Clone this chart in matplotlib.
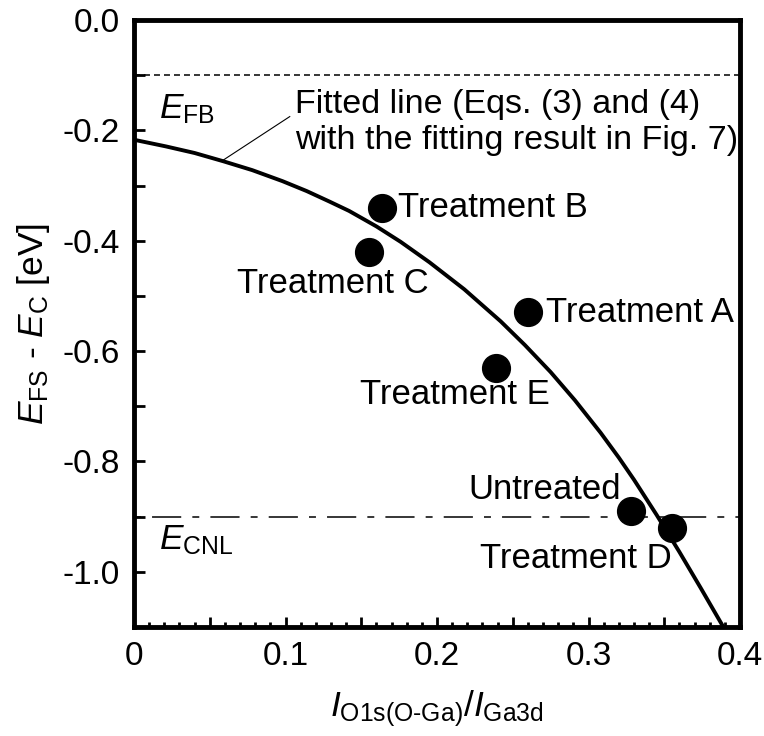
import numpy as np
import matplotlib
matplotlib.use("Agg")
from matplotlib import pyplot as plt

plt.rcParams["font.family"] = ["Liberation Sans", "DejaVu Sans"]
plt.rcParams["mathtext.fontset"] = "custom"
plt.rcParams["mathtext.rm"] = "Liberation Sans"
plt.rcParams["mathtext.it"] = "Liberation Sans:italic"
plt.rcParams["lines.scale_dashes"] = False

# measured samples
samples = ["Treatment B", "Treatment C", "Treatment A", "Treatment E", "Untreated", "Treatment D"]
ratio = [0.164, 0.155, 0.260, 0.239, 0.328, 0.355]
e_fs = [-0.34, -0.42, -0.53, -0.63, -0.89, -0.92]

# fitted line
fit_x = [0.000, 0.021, 0.040, 0.059, 0.078, 0.098, 0.114, 0.129, 0.142, 0.160,
         0.176, 0.195, 0.218, 0.242, 0.258, 0.275, 0.291, 0.308, 0.320, 0.330,
         0.345, 0.360, 0.374, 0.389]
fit_y = [-0.217, -0.229, -0.241, -0.256, -0.272, -0.292, -0.310, -0.329, -0.346, -0.374,
         -0.402, -0.439, -0.488, -0.546, -0.589, -0.638, -0.689, -0.748, -0.793, -0.833,
         -0.897, -0.964, -1.029, -1.100]

e_fb = -0.1
e_cnl = -0.9

fig = plt.figure(figsize=(7.64, 7.36), dpi=100)
ax = fig.add_axes([0.1754, 0.1481, 0.7932, 0.8247])

ax.axhline(e_fb, color="black", lw=1.1, dashes=(4.3, 2.9))
ax.axhline(e_cnl, color="black", lw=1.1, dashes=(5, 8, 21, 8))
ax.plot(fit_x, fit_y, color="black", lw=2.8, solid_joinstyle="round")
ax.plot(ratio, e_fs, "o", color="black", markersize=20)

# labels for each point: (x, y, ha)
label_pos = {
    "Treatment B": (0.174, -0.34, "left"),
    "Treatment C": (0.1315, -0.478, "center"),
    "Treatment A": (0.272, -0.53, "left"),
    "Treatment E": (0.212, -0.678, "center"),
    "Untreated": (0.2713, -0.851, "center"),
    "Treatment D": (0.2917, -0.975, "center"),
}
for name in samples:
    x, y, ha = label_pos[name]
    ax.text(x, y, name, fontsize=25, ha=ha, va="center")

ax.text(0.0165, -0.178, r"$\mathit{E}_{\mathrm{FB}}$", fontsize=25.5, ha="left", va="baseline")
ax.text(0.0165, -0.960, r"$\mathit{E}_{\mathrm{CNL}}$", fontsize=25.5, ha="left", va="baseline")

ax.text(0.106, -0.186, "Fitted line (Eqs. (3) and (4)\nwith the fitting result in Fig. 7)",
        fontsize=24.5, ha="left", va="center", linespacing=1.2)
ax.plot([0.1028, 0.0577], [-0.175, -0.256], color="black", lw=0.8)

ax.set_xlim(0, 0.4)
ax.set_ylim(-1.1, 0.0)

xt = np.arange(0, 0.401, 0.05)
ax.set_xticks(xt)
ax.set_xticklabels(["0" if i == 0 else (f"{v:.1f}" if i % 2 == 0 else "") for i, v in enumerate(xt)])
ax.set_xticks(np.arange(0, 0.401, 0.01), minor=True)

yt = np.arange(-1.1, 0.001, 0.1)
ax.set_yticks(yt)
ax.set_yticklabels([(f"{v:.1f}".replace("\u2212", "-") if round(v * 10) % 2 == 0 else "") for v in yt])

ax.tick_params(axis="both", which="both", direction="in", labelsize=24, pad=10, width=2)
ax.tick_params(axis="x", which="major", length=7)
ax.tick_params(axis="x", which="minor", length=3.5)
ax.tick_params(axis="y", which="major", length=8)
ax.tick_params(top=False, right=False)

for s in ax.spines.values():
    s.set_linewidth(3.5)

ax.set_xlabel(r"$\mathit{I}_{\mathrm{O1s(O\text{-}Ga)}}/\mathit{I}_{\mathrm{Ga3d}}$", fontsize=25.5, labelpad=12)
ax.set_ylabel(r"$\mathit{E}_{\mathrm{FS}}$ - $\mathit{E}_{\mathrm{C}}$ [eV]", fontsize=25.5, labelpad=8)

fig.savefig("out.png", dpi=100)
